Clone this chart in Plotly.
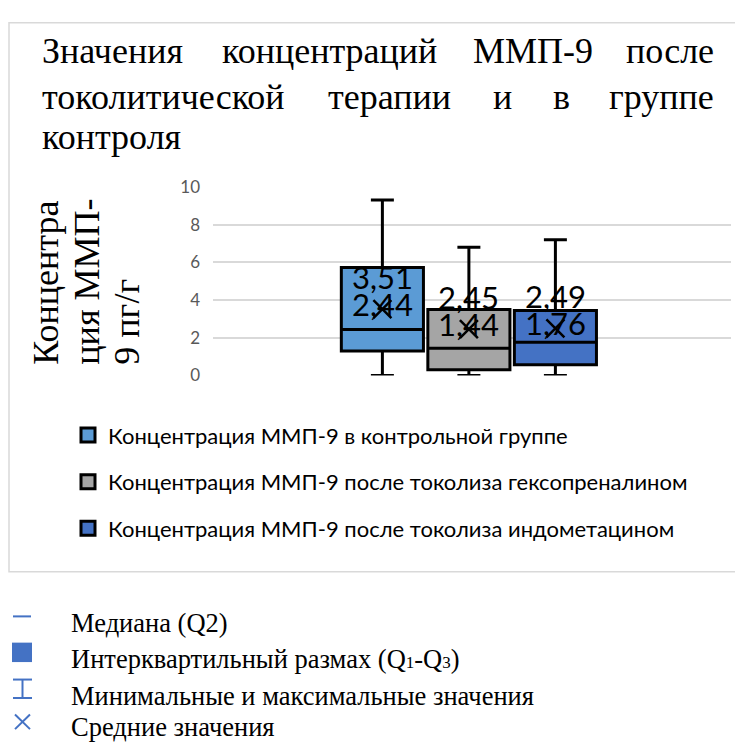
import plotly.graph_objects as go

# Summary statistics per group (ng/g)
groups = [
    "Концентрация ММП-9 в контрольной группе",
    "Концентрация ММП-9 после токолиза гексопреналином",
    "Концентрация ММП-9 после токолиза индометацином",
]
q1_vals = [1.3, 0.3, 0.57]
median_vals = [2.44, 1.44, 1.76]
q3_vals = [5.72, 3.5, 3.44]
min_vals = [0.0, 0.0, 0.0]
max_vals = [9.3, 6.8, 7.2]
mean_vals = [3.51, 2.45, 2.49]
colors = ["#5B9BD5", "#A5A5A5", "#4472C4"]

title_lines = [
    ["Значения", "концентраций", "ММП-9", "после"],
    ["токолитической", "терапии", "и", "в", "группе"],
    ["контроля"],
]
ytitle_lines = ["Концентра", "ция ММП-", "9 пг/г"]
key_labels = [
    "Медиана (Q2)",
    "Интерквартильный размах (Q<span style='font-size:17px'>1</span>-Q<span style='font-size:17px'>3</span>)",
    "Минимальные и максимальные значения",
    "Средние значения",
]

W, H = 735, 743
SANS = "Lato, 'Noto Sans', sans-serif"
SERIF = "'Liberation Serif', 'Times New Roman', serif"


def px(x):
    return x / W


def py(y):
    return 1 - y / H


fig = go.Figure()

slot = 0.334
box_w = 0.317
positions = [(i - 1) * slot for i in range(len(groups))]

for i, name in enumerate(groups):
    fig.add_trace(go.Box(
        name=name,
        x=[positions[i]],
        q1=[q1_vals[i]], median=[median_vals[i]], q3=[q3_vals[i]],
        lowerfence=[min_vals[i]], upperfence=[max_vals[i]],
        width=box_w, whiskerwidth=0.28,
        fillcolor=colors[i],
        line=dict(color="black", width=3),
        boxpoints=False,
        showlegend=False,
        hoverinfo="skip",
    ))
    # legend key for the group
    fig.add_trace(go.Scatter(
        name=name, x=[None], y=[None], mode="markers",
        marker=dict(symbol="square", size=14, color=colors[i],
                    line=dict(color="black", width=3)),
        legendgroup=f"g{i}", hoverinfo="skip",
    ))

fig.add_trace(go.Scatter(
    x=positions, y=mean_vals, mode="markers",
    marker=dict(symbol="x-thin", size=18, line=dict(width=2.5, color="black")),
    showlegend=False, hoverinfo="skip",
))

annotations = []


def fmt(v):
    return f"{v:.2f}".replace(".", ",")


for i in range(len(groups)):
    annotations.append(dict(
        x=positions[i], y=mean_vals[i], xref="x", yref="y",
        text=fmt(median_vals[i]), showarrow=False, yshift=5,
        font=dict(family=SANS, size=31, color="black"),
    ))
    annotations.append(dict(
        x=positions[i], y=mean_vals[i], xref="x", yref="y",
        text=fmt(mean_vals[i]), showarrow=False, yshift=32,
        font=dict(family=SANS, size=31, color="black"),
    ))

# Justified title, word by word (first word left-aligned, last right-aligned)
line_y = [41, 88, 130]
line_x0, line_x1 = 40, 716
word_centers = {
    0: [None, 329, 533, None],
    1: [None, 389, 502, 561, None],
}
for li, words in enumerate(title_lines):
    for wi, w in enumerate(words):
        if wi == 0:
            xa, xx = "left", line_x0
        elif wi == len(words) - 1:
            xa, xx = "right", line_x1
        else:
            xa, xx = "center", word_centers[li][wi]
        annotations.append(dict(
            x=px(xx), y=py(line_y[li]), xref="paper", yref="paper",
            xanchor=xa, yanchor="middle", text=w, showarrow=False,
            font=dict(family=SERIF, size=36, color="black"),
        ))

# Rotated y-axis title, one annotation per line
for li, (t, cx) in enumerate(zip(ytitle_lines, [46, 87, 127])):
    annotations.append(dict(
        x=px(cx), y=py(366), xref="paper", yref="paper",
        xanchor="center", yanchor="bottom", text=t, textangle=-90,
        showarrow=False, font=dict(family=SERIF, size=36, color="black"),
    ))

# Key below the chart
key_y = [630, 667, 705, 737]
for t, yy in zip(key_labels, key_y):
    annotations.append(dict(
        x=px(69), y=py(yy), xref="paper", yref="paper",
        xanchor="left", yanchor="middle", text=t, showarrow=False,
        font=dict(family=SERIF, size=26.5, color="black"),
    ))

KEY_BLUE = "#4472C4"
shapes = [
    # chart area frame
    dict(type="rect", xref="paper", yref="paper",
         x0=px(9), x1=px(760), y0=py(577), y1=py(12),
         line=dict(color="#D9D9D9", width=1.5), layer="below"),
    # median key
    dict(type="line", xref="paper", yref="paper",
         x0=px(13), x1=px(31), y0=py(623), y1=py(623),
         line=dict(color=KEY_BLUE, width=2)),
    # IQR key
    dict(type="rect", xref="paper", yref="paper",
         x0=px(12), x1=px(32), y0=py(670), y1=py(650),
         fillcolor=KEY_BLUE, line=dict(width=0)),
    # min/max key
    dict(type="line", xref="paper", yref="paper",
         x0=px(13), x1=px(32), y0=py(688), y1=py(688),
         line=dict(color=KEY_BLUE, width=2)),
    dict(type="line", xref="paper", yref="paper",
         x0=px(13), x1=px(32), y0=py(707), y1=py(707),
         line=dict(color=KEY_BLUE, width=2)),
    dict(type="line", xref="paper", yref="paper",
         x0=px(22.5), x1=px(22.5), y0=py(688), y1=py(707),
         line=dict(color=KEY_BLUE, width=2)),
    # mean key (cross)
    dict(type="line", xref="paper", yref="paper",
         x0=px(15), x1=px(30), y0=py(724), y1=py(739),
         line=dict(color=KEY_BLUE, width=2)),
    dict(type="line", xref="paper", yref="paper",
         x0=px(15), x1=px(30), y0=py(739), y1=py(724),
         line=dict(color=KEY_BLUE, width=2)),
]

fig.update_layout(
    width=W, height=H,
    margin=dict(l=0, r=0, t=0, b=0),
    paper_bgcolor="white", plot_bgcolor="white",
    showlegend=True,
    legend=dict(
        x=px(68), y=py(415), xanchor="left", yanchor="top",
        font=dict(family=SANS, size=22, color="black"),
        tracegroupgap=15, bgcolor="rgba(0,0,0,0)",
    ),
    xaxis=dict(
        domain=[px(213), px(731)], range=[-0.988, 1.012],
        showticklabels=False, showgrid=False, zeroline=False,
        showline=False, ticks="",
    ),
    yaxis=dict(
        domain=[py(375), py(181)], range=[0, 10], dtick=2,
        showgrid=True, gridcolor="#D9D9D9", gridwidth=1.5,
        zeroline=False, showline=False, ticks="",
        tickfont=dict(family=SANS, size=17, color="#595959"),
        ticklabelstandoff=12,
    ),
    annotations=annotations,
    shapes=shapes,
)

fig.write_html("out.html")
